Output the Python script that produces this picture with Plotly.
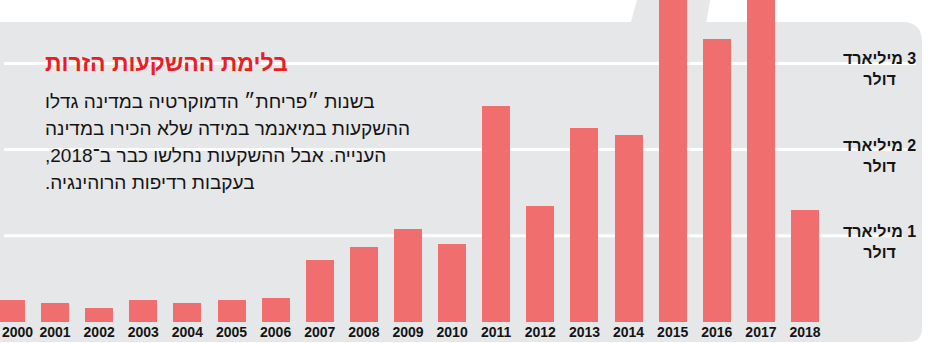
import plotly.graph_objects as go

# Foreign direct investment into Myanmar, billions of US dollars
years = list(range(2000, 2019))
fdi_billion = [0.26, 0.22, 0.16, 0.25, 0.22, 0.25, 0.28, 0.72, 0.87, 1.08, 0.90,
               2.51, 1.34, 2.25, 2.17, 4.08, 3.28, 4.80, 1.30]
year_labels = [str(y) for y in years]

# right-to-left marks keep digits and punctuation in Hebrew reading order
RLM = "\u200f"
grid_values = [1, 2, 3]
grid_labels = [RLM + "1 מיליארד" + RLM + "<br>" + RLM + "דולר" + RLM,
               RLM + "2 מיליארד" + RLM + "<br>" + RLM + "דולר" + RLM,
               RLM + "3 מיליארד" + RLM + "<br>" + RLM + "דולר" + RLM]

title_text = "בלימת ההשקעות הזרות"
body_lines = [
    "בשנות ״פריחת״ הדמוקרטיה במדינה גדלו",
    "ההשקעות במיאנמר במידה שלא הכירו במדינה",
    "הענייה. אבל ההשקעות נחלשו כבר ב־2018,",
    "בעקבות רדיפות הרוהינגיה.",
]

# ---- page geometry (pixels) ----
W, H = 928, 343
BASE_PX = 322          # baseline of the bars
PX_PER_UNIT = 86.2     # pixels per billion dollars
PITCH = 44.12          # pixels between neighbouring years
FIRST_CENTER = 10.9    # x of the first bar centre
BAR_PX = 28

x0 = years[0] - FIRST_CENTER / PITCH
x1 = x0 + W / PITCH
y_top = BASE_PX / PX_PER_UNIT


def px(x):
    return x / W


def py(y):
    return 1 - y / H


BAR_COLOR = "#f16e6f"
PANEL = "#e6e7e9"
INK = "#141414"
SANS = "Liberation Sans, Arial, DejaVu Sans, sans-serif"

fig = go.Figure(
    go.Bar(
        x=years,
        y=fdi_billion,
        width=BAR_PX / PITCH,
        marker=dict(color=BAR_COLOR, line=dict(width=0)),
        hoverinfo="skip",
    )
)

# grey rounded panel with a small tab behind the tallest bars
panel_path = (
    f"M {px(-4)},{py(22)} L {px(902)},{py(22)} "
    f"Q {px(922)},{py(22)} {px(922)},{py(42)} "
    f"L {px(922)},{py(328)} Q {px(922)},{py(342)} {px(908)},{py(342)} "
    f"L {px(-4)},{py(342)} Z"
)
tab_path = (
    f"M {px(630.5)},{py(24)} L {px(637.5)},{py(-2)} L {px(710.5)},{py(-2)} "
    f"L {px(706)},{py(24)} Z"
)
shapes = [
    dict(type="path", path=panel_path, xref="paper", yref="paper",
         fillcolor=PANEL, line=dict(width=0), layer="below"),
    dict(type="path", path=tab_path, xref="paper", yref="paper",
         fillcolor=PANEL, line=dict(width=0), layer="below"),
]
grid_right = {1: 903, 2: 908, 3: 916}
for v in grid_values:
    shapes.append(dict(type="line", xref="paper", yref="y",
                       x0=px(4), x1=px(grid_right[v]), y0=v, y1=v,
                       line=dict(color="white", width=3), layer="below"))

annotations = []
for v, t in zip(grid_values, grid_labels):
    annotations.append(dict(x=px(879), xref="paper", y=v, yref="y",
                            text=f"<b>{t}</b>", showarrow=False,
                            xanchor="center", yanchor="middle", yshift=-6,
                            align="center",
                            font=dict(family=SANS, size=16, color=INK)))

annotations.append(dict(x=px(43), xref="paper", y=py(63), yref="paper",
                        text=f"<b>{title_text}</b>", showarrow=False,
                        xanchor="left", yanchor="middle",
                        font=dict(family=SANS, size=23, color="#ec1c24")))

body_y = [101.5, 128.5, 155.5, 182.5]
for line, yy in zip(body_lines, body_y):
    annotations.append(dict(x=px(43), xref="paper", y=py(yy), yref="paper",
                            text=RLM + line + RLM, showarrow=False,
                            xanchor="left", yanchor="middle",
                            font=dict(family=SANS, size=19, color=INK)))

# the first year label sits a little right of its bar so it stays on the page
tick_positions = [y + (0.15 if y == years[0] else 0.0) for y in years]
tick_text = [f"<b>{t}</b>" for t in year_labels]

fig.update_layout(
    width=W,
    height=H,
    margin=dict(l=0, r=0, t=0, b=0, autoexpand=False),
    paper_bgcolor="white",
    plot_bgcolor="rgba(0,0,0,0)",
    showlegend=False,
    bargap=0,
    shapes=shapes,
    annotations=annotations,
    xaxis=dict(
        range=[x0, x1],
        domain=[0, 1],
        tickvals=tick_positions,
        ticktext=tick_text,
        tickfont=dict(family=SANS, size=14, color=INK),
        ticklabeloverflow="allow",
        automargin=False,
        showgrid=False, zeroline=False, showline=False, ticks="",
        fixedrange=True,
    ),
    yaxis=dict(
        range=[0, y_top],
        domain=[1 - BASE_PX / H, 1],
        visible=False,
        automargin=False,
        fixedrange=True,
    ),
)

fig.write_html("out.html", config={"displayModeBar": False})
